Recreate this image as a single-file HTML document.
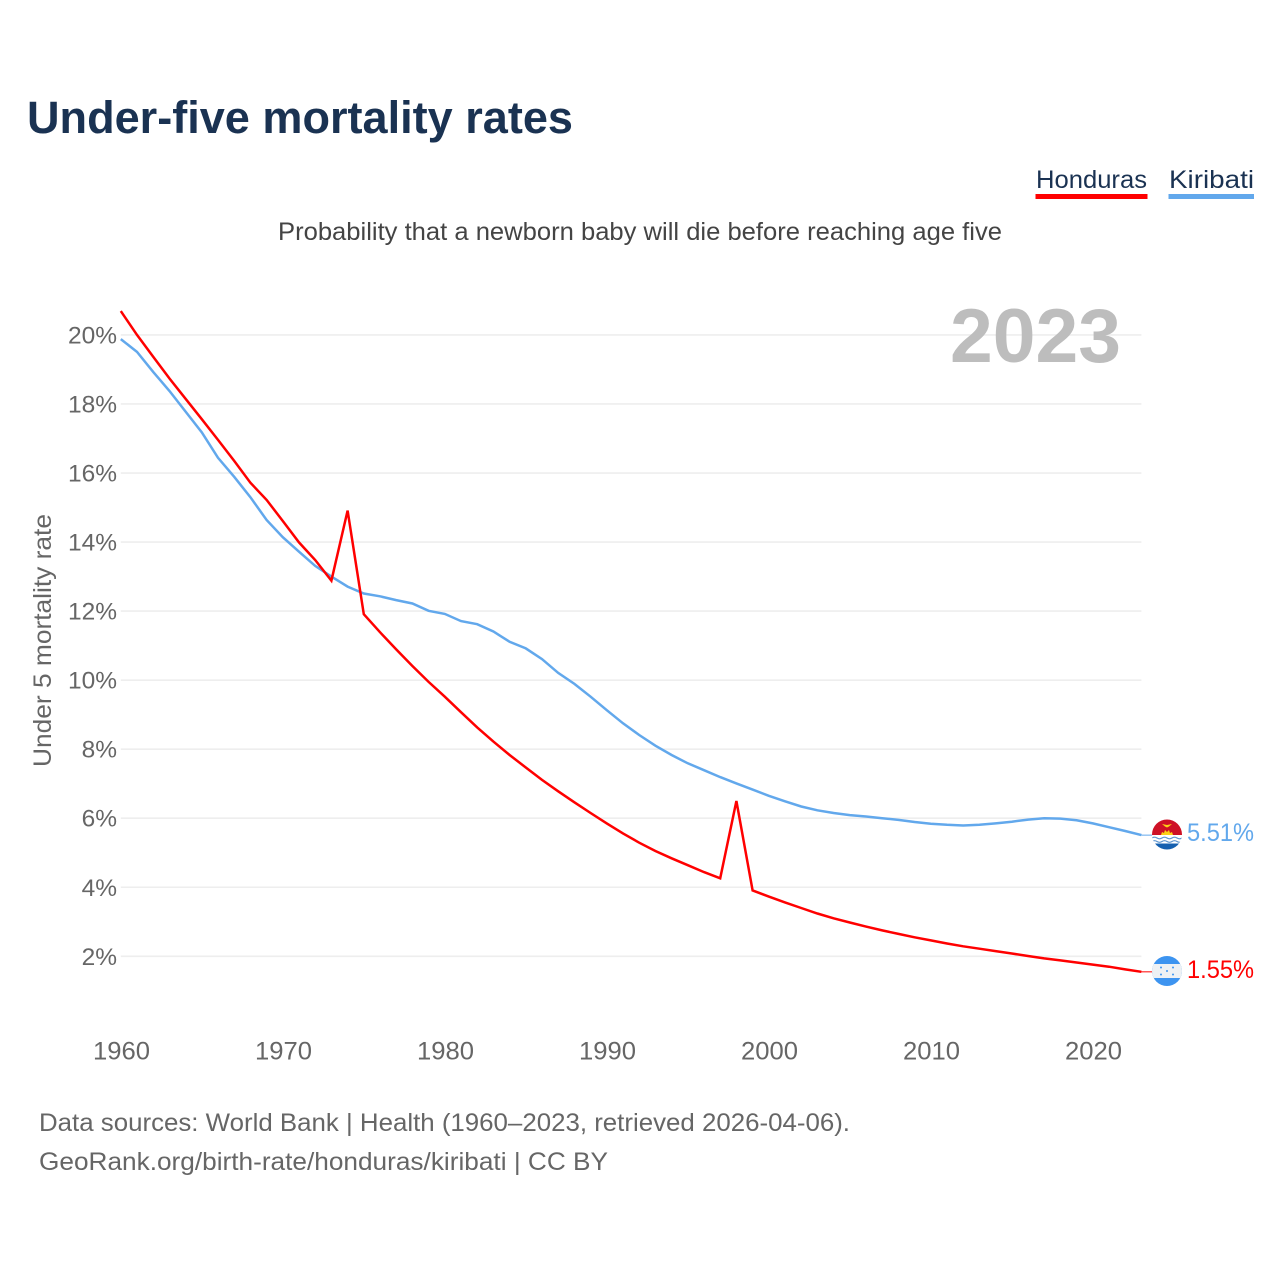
<!DOCTYPE html>
<html lang="en">
<head>
<meta charset="utf-8">
<title>Under-five mortality rates</title>
<style>
html,body{margin:0;padding:0;background:#fff;}
svg{display:block;font-family:"Liberation Sans",sans-serif;}
</style>
</head>
<body>
<svg id="chart" xmlns="http://www.w3.org/2000/svg" width="1280" height="1280" viewBox="0 0 1280 1280">
  <defs>
    <clipPath id="clip-ki"><circle cx="1167" cy="834.5" r="15"/></clipPath>
    <clipPath id="clip-hn"><circle cx="1167" cy="971" r="15"/></clipPath>
  </defs>
  <rect x="0" y="0" width="1280" height="1280" fill="#fff"/>
  <text x="27" y="133" font-size="45" font-weight="700" fill="#1a3252" textLength="546" lengthAdjust="spacingAndGlyphs">Under-five mortality rates</text>

  <text x="1036" y="188" font-size="25" fill="#1a3252" textLength="111" lengthAdjust="spacingAndGlyphs">Honduras</text>
  <rect x="1035.5" y="194" width="112" height="5" fill="#ff0000"/>
  <text x="1169" y="188" font-size="25" fill="#1a3252" textLength="85" lengthAdjust="spacingAndGlyphs">Kiribati</text>
  <rect x="1168.5" y="194" width="85.5" height="5" fill="#62a8ec"/>

  <text x="278" y="240" font-size="25" fill="#444" textLength="724" lengthAdjust="spacingAndGlyphs">Probability that a newborn baby will die before reaching age five</text>

  <g id="grid"></g>
  <g id="y-ticks"></g>
  <g id="x-ticks"></g>

  <text transform="translate(51,767) rotate(-90)" x="0" y="0" font-size="25" fill="#666" textLength="253" lengthAdjust="spacingAndGlyphs">Under 5 mortality rate</text>

  <text id="year-label" x="950" y="362" font-size="76" font-weight="700" fill="#bdbdbd" textLength="171" lengthAdjust="spacingAndGlyphs"></text>

  <g id="series"></g>

  <g clip-path="url(#clip-ki)">
    <rect x="1152" y="819" width="30" height="16" fill="#ce1126"/>
    <rect x="1152" y="835" width="30" height="16" fill="#fff"/>
    <rect x="1152" y="843.5" width="30" height="7" fill="#1560b0"/>
    <path d="M1152 838q2.5 -1.6 5 0t5 0t5 0t5 0t5 0t5 0" fill="none" stroke="#5a93cf" stroke-width="1.2"/>
    <path d="M1152 841.5q2.5 -1.6 5 0t5 0t5 0t5 0t5 0t5 0" fill="none" stroke="#5a93cf" stroke-width="1.2"/>
    <path d="M1161 835l1 -3 2 1 1 -3 2 2 2 -2 1 3 2 -1 1 3z" fill="#fcd116"/>
    <path d="M1162 824l5 1 5 -1 -3 2.500 -2 1 -2 -1z" fill="#fcd116"/>
  </g>
  <g clip-path="url(#clip-hn)">
    <rect x="1152" y="956" width="30" height="30" fill="#3d94f0"/>
    <rect x="1152" y="964" width="30" height="14" fill="#eef1f4"/>
    <circle cx="1161" cy="967.5" r="1" fill="#3d94f0"/>
    <circle cx="1173" cy="967.5" r="1" fill="#3d94f0"/>
    <circle cx="1167" cy="971" r="1" fill="#3d94f0"/>
    <circle cx="1161" cy="974.5" r="1" fill="#3d94f0"/>
    <circle cx="1173" cy="974.5" r="1" fill="#3d94f0"/>
  </g>

  <text id="end-ki" x="1187" y="841" font-size="25" fill="#62a8ec" textLength="67" lengthAdjust="spacingAndGlyphs"></text>
  <text id="end-hn" x="1187" y="978" font-size="25" fill="#ff0000" textLength="67" lengthAdjust="spacingAndGlyphs"></text>

  <text x="39" y="1131" font-size="25" fill="#666" textLength="811" lengthAdjust="spacingAndGlyphs">Data sources: World Bank | Health (1960–2023, retrieved 2026-04-06).</text>
  <text x="39" y="1170" font-size="25" fill="#666" textLength="569" lengthAdjust="spacingAndGlyphs">GeoRank.org/birth-rate/honduras/kiribati | CC BY</text>
</svg>
<script>
const startYear = 1960;
const yTickValues = [2, 4, 6, 8, 10, 12, 14, 16, 18, 20];
const xTickYears = [1960, 1970, 1980, 1990, 2000, 2010, 2020];
const honduras = [20.69, 20.0, 19.37, 18.74, 18.15, 17.56, 16.96, 16.35, 15.72, 15.22,
  14.61, 13.99, 13.48, 12.88, 14.91, 11.91, 11.39, 10.89, 10.41, 9.95,
  9.52, 9.07, 8.63, 8.22, 7.83, 7.47, 7.11, 6.78, 6.46, 6.15,
  5.85, 5.56, 5.29, 5.05, 4.84, 4.64, 4.44, 4.26, 6.5, 3.91,
  3.73, 3.56, 3.40, 3.24, 3.10, 2.98, 2.86, 2.75, 2.65, 2.55,
  2.46, 2.37, 2.29, 2.22, 2.15, 2.08, 2.01, 1.94, 1.88, 1.82,
  1.76, 1.70, 1.62, 1.55];
const kiribati = [19.88, 19.51, 18.93, 18.38, 17.78, 17.18, 16.44, 15.89, 15.3, 14.64,
  14.14, 13.72, 13.31, 13.0, 12.71, 12.51, 12.43, 12.32, 12.22, 12.01,
  11.92, 11.71, 11.62, 11.41, 11.11, 10.92, 10.61, 10.21, 9.89, 9.52,
  9.13, 8.75, 8.41, 8.1, 7.83, 7.59, 7.39, 7.19, 7.01, 6.83,
  6.65, 6.49, 6.34, 6.23, 6.15, 6.09, 6.05, 6.0, 5.95, 5.89,
  5.84, 5.81, 5.79, 5.81, 5.85, 5.9, 5.96, 6.0, 5.99, 5.94,
  5.85, 5.74, 5.63, 5.51];

const NS = 'http://www.w3.org/2000/svg';
function xScale(year) { return 120.8 + (year - 1960) * 16.2; }
function yScale(v) { return 956.3 - (v - 2) * 34.52; }
function make(tag, attrs, text) {
  const el = document.createElementNS(NS, tag);
  for (const k in attrs) el.setAttribute(k, attrs[k]);
  if (text !== undefined) el.textContent = text;
  return el;
}

const xLeft = xScale(startYear);
const xRight = xScale(startYear + honduras.length - 1);
const gridGroup = document.getElementById('grid');
const yGroup = document.getElementById('y-ticks');
const xGroup = document.getElementById('x-ticks');
const seriesGroup = document.getElementById('series');

yTickValues.forEach(function (v) {
  const line = make('line', { x1: xLeft, x2: xRight, y1: yScale(v), y2: yScale(v), stroke: '#eeeeee', 'stroke-width': 1.6 });
  
  
  gridGroup.appendChild(line);
  const label = make('text', { x: 117, y: yScale(v) + 8.5, 'font-size': 24.5, fill: '#666', 'text-anchor': 'end' }, v + '%');
  
  
  yGroup.appendChild(label);
});

xTickYears.forEach(function (year) {
  const label = make('text', { x: xScale(year) + 0.7, y: 1059.5, 'font-size': 25, fill: '#666', 'text-anchor': 'middle', textLength: 57, lengthAdjust: 'spacingAndGlyphs' }, String(year));
  
  
  xGroup.appendChild(label);
});

function linePath(values) {
  return values.map(function (v, i) {
    return (i ? 'L' : 'M') + xScale(startYear + i).toFixed(1) + ' ' + yScale(v).toFixed(1);
  }).join('');
}

const kiribatiLine = make('path', { d: linePath(kiribati), fill: 'none', stroke: '#62a8ec', 'stroke-width': 2.5, 'stroke-linejoin': 'miter' });


seriesGroup.appendChild(kiribatiLine);

const hondurasLine = make('path', { d: linePath(honduras), fill: 'none', stroke: '#ff0000', 'stroke-width': 2.5, 'stroke-linejoin': 'miter' });


seriesGroup.appendChild(hondurasLine);

const kiribatiEnd = kiribati[kiribati.length - 1];
const hondurasEnd = honduras[honduras.length - 1];

const kiribatiLead = make('line', { x1: xRight, x2: 1154, y1: yScale(kiribatiEnd), y2: yScale(kiribatiEnd), stroke: '#62a8ec', 'stroke-width': 1 });


seriesGroup.appendChild(kiribatiLead);

const hondurasLead = make('line', { x1: xRight, x2: 1154, y1: yScale(hondurasEnd), y2: yScale(hondurasEnd), stroke: '#ff0000', 'stroke-width': 1 });


seriesGroup.appendChild(hondurasLead);

document.getElementById('end-ki').textContent = kiribatiEnd.toFixed(2) + '%';
document.getElementById('end-hn').textContent = hondurasEnd.toFixed(2) + '%';
document.getElementById('year-label').textContent = String(startYear + honduras.length - 1);
</script>
</body>
</html>
